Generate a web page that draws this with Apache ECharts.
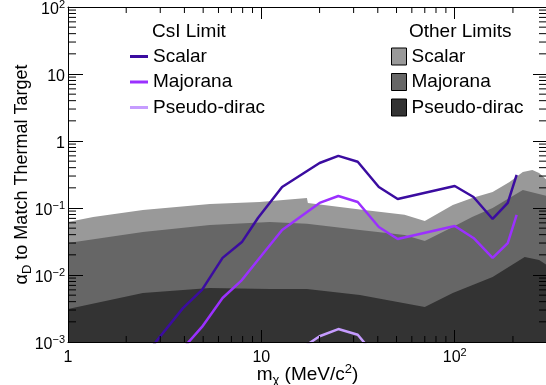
<!DOCTYPE html>
<html><head><meta charset="utf-8">
<script src="https://cdn.jsdelivr.net/npm/echarts@6/dist/echarts.min.js"></script>
<style>html,body{margin:0;padding:0;background:#fff}#c{width:546px;height:385px}</style>
</head><body><div id="c"></div>
<script>
// ---- Data ----
// CsI limit curves
const csiScalarMass = [2.5, 3.93, 4.93, 6.3, 7.93, 9.6, 12.8, 20, 25, 31.5, 40.5, 50.7, 100, 125, 157, 188, 209];
const csiScalar     = [0.00063, 0.0032, 0.006, 0.018, 0.031, 0.071, 0.206, 0.47, 0.60, 0.49, 0.206, 0.136, 0.213, 0.146, 0.0686, 0.119, 0.311];
const csiMajoranaMass = [3.93, 4.93, 6.3, 7.93, 9.6, 12.8, 20, 25, 31.5, 40.5, 50.7, 100, 125, 157, 188, 209];
const csiMajorana     = [0.0008, 0.00168, 0.00454, 0.0084, 0.0167, 0.047, 0.119, 0.151, 0.123, 0.052, 0.0345, 0.054, 0.0357, 0.018, 0.030, 0.079];
const csiPseudoMass = [12.8, 20, 25, 31.5, 40.5];
const csiPseudo     = [0.00051, 0.00122, 0.00156, 0.00128, 0.00054];
// Other limits (bands)
const otherScalarMass = [1, 1.35, 2.44, 5.42, 9.8, 17.2, 17.4, 32.3, 55, 70, 97.7, 123, 157, 192, 225, 252, 273, 300];
const otherScalar     = [0.062, 0.0734, 0.093, 0.115, 0.123, 0.141, 0.119, 0.095, 0.079, 0.064, 0.111, 0.141, 0.173, 0.244, 0.344, 0.369, 0.333, 0.26];
const otherMajoranaMass = [1, 2.44, 5.42, 11.05, 17.2, 32.3, 55, 70, 97.7, 123, 157, 225, 300];
const otherMajorana     = [0.030, 0.0438, 0.0557, 0.0618, 0.058, 0.047, 0.0395, 0.0321, 0.052, 0.0734, 0.100, 0.186, 0.151];
const otherPseudoMass = [1, 2.44, 5.42, 11.05, 17.2, 32.3, 70, 97.7, 157, 230, 273, 300];
const otherPseudo     = [0.00311, 0.00538, 0.0064, 0.0062, 0.0062, 0.00503, 0.00333, 0.00538, 0.0093, 0.0186, 0.0167, 0.014];
// Axis ticks
const xTickValues = [1, 10, 100];
const xTickLabels = ['1', '10', '10{sup|2}'];
const yTickValues = [0.001, 0.01, 0.1, 1, 10, 100];
const yTickLabels = ['10{sup|\u22123}', '10{sup|\u22122}', '10{sup|\u22121}', '1', '10', '10{sup|2}'];
const xMinorTicks = [2,3,4,5,6,7,8,9,20,30,40,50,60,70,80,90,200,300];
const yMinorTicks = [0.002,0.003,0.004,0.005,0.006,0.007,0.008,0.009,
  0.02,0.03,0.04,0.05,0.06,0.07,0.08,0.09,
  0.2,0.3,0.4,0.5,0.6,0.7,0.8,0.9,
  2,3,4,5,6,7,8,9,20,30,40,50,60,70,80,90];

const X_MIN = 1, X_MAX = 300, Y_MIN = 0.001, Y_MAX = 100;
const FONT = '"Liberation Sans", Arial, Helvetica, sans-serif';
const zip = (xs, ys) => xs.map((x, i) => [x, ys[i]]);
const C_SCALAR = '#3b0ca0', C_MAJ = '#9b30ff', C_PSEUDO = '#c69cff';
const G1 = '#999999', G2 = '#666666', G3 = '#333333';

function fmt(values, labels) {
  return v => {
    const i = values.findIndex(t => Math.abs(Math.log10(t) - Math.log10(v)) < 1e-6);
    return i >= 0 ? labels[i] : '';
  };
}

const chart = echarts.init(document.getElementById('c'), null, {renderer: 'canvas'});
const axisBase = {
  type: 'log', logBase: 10,
  axisLine: {show: true, lineStyle: {color: '#000', width: 1}},
  splitLine: {show: false},
  z: 10
};
const labelRich = {sup: {fontSize: 11, lineHeight: 11, verticalAlign: 'top', fontFamily: FONT, color: '#000'}};
const nameRich = {
  sub: {fontSize: 13, lineHeight: 13, verticalAlign: 'bottom', fontFamily: FONT, color: '#000'},
  sup: {fontSize: 13, lineHeight: 13, verticalAlign: 'top', fontFamily: FONT, color: '#000'}
};

const option = {
  animation: false,
  backgroundColor: '#fff',
  textStyle: {fontFamily: FONT},
  grid: {left: 68, top: 7, width: 479, height: 335, containLabel: false, outerBoundsMode: 'none'},
  title: [
    {text: 'CsI Limit', left: 152, top: 22, padding: 0, textStyle: {fontSize: 19, fontWeight: 'normal', color: '#000', fontFamily: FONT}},
    {text: 'Other Limits', left: 409, top: 22, padding: 0, textStyle: {fontSize: 19, fontWeight: 'normal', color: '#000', fontFamily: FONT}}
  ],
  legend: [
    {
      data: ['CsI Scalar', 'CsI Majorana', 'CsI Pseudo-dirac'],
      orient: 'vertical', left: 130, top: 47, padding: 0, itemGap: 6.5,
      icon: 'rect', itemWidth: 18, itemHeight: 3, selectedMode: false,
      formatter: n => n.replace('CsI ', ''),
      textStyle: {fontSize: 19, color: '#000', fontFamily: FONT}
    },
    {
      data: ['Other Scalar', 'Other Majorana', 'Other Pseudo-dirac'],
      orient: 'vertical', left: 391, top: 47, padding: 0, itemGap: 6.5,
      icon: 'rect', itemWidth: 15, itemHeight: 17, selectedMode: false,
      itemStyle: {borderColor: '#000', borderWidth: 1},
      formatter: n => n.replace('Other ', ''),
      textStyle: {fontSize: 19, color: '#000', fontFamily: FONT}
    }
  ],
  xAxis: [
    Object.assign({}, axisBase, {
      position: 'bottom', min: X_MIN, max: X_MAX,
      axisTick: {show: true, inside: true, length: 12, lineStyle: {color: '#000'}},
      axisLabel: {show: true, margin: 5, fontSize: 16, lineHeight: 22, color: '#000', fontFamily: FONT,
        formatter: fmt(xTickValues, xTickLabels), rich: labelRich, showMaxLabel: false},
      name: 'm{sub|\u03c7} (MeV/c{sup|2})', nameLocation: 'middle', nameGap: 21, nameMoveOverlap: false,
      nameTextStyle: {fontSize: 19, lineHeight: 24, color: '#000', fontFamily: FONT, rich: nameRich}
    }),
    Object.assign({}, axisBase, {
      position: 'top', min: X_MIN, max: X_MAX,
      axisTick: {show: true, inside: true, length: 12, lineStyle: {color: '#000'}},
      axisLabel: {show: false}
    })
  ],
  yAxis: [
    Object.assign({}, axisBase, {
      position: 'left', min: Y_MIN, max: Y_MAX,
      axisTick: {show: true, inside: true, length: 15, lineStyle: {color: '#000'}},
      axisLabel: {show: true, margin: 3, fontSize: 16, lineHeight: 22, padding: [6, 0, 0, 0], color: '#000', fontFamily: FONT,
        formatter: fmt(yTickValues, yTickLabels), rich: labelRich},
      name: '\u03b1{sub|D} to Match Thermal Target', nameLocation: 'middle', nameGap: 34, nameMoveOverlap: false,
      nameTextStyle: {fontSize: 18, lineHeight: 24, color: '#000', fontFamily: FONT, rich: nameRich}
    }),
    Object.assign({}, axisBase, {
      position: 'right', min: Y_MIN, max: Y_MAX,
      axisTick: {show: true, inside: true, length: 14, lineStyle: {color: '#000'}},
      axisLabel: {show: false}
    })
  ],
  series: [
    {name: 'Other Scalar', type: 'line', data: zip(otherScalarMass, otherScalar), symbol: 'none', silent: true,
      lineStyle: {width: 0}, itemStyle: {color: G1}, areaStyle: {color: G1, opacity: 1, origin: 'start'}, z: 1},
    {name: 'Other Majorana', type: 'line', data: zip(otherMajoranaMass, otherMajorana), symbol: 'none', silent: true,
      lineStyle: {width: 0}, itemStyle: {color: G2}, areaStyle: {color: G2, opacity: 1, origin: 'start'}, z: 1},
    {name: 'Other Pseudo-dirac', type: 'line', data: zip(otherPseudoMass, otherPseudo), symbol: 'none', silent: true,
      lineStyle: {width: 0}, itemStyle: {color: G3}, areaStyle: {color: G3, opacity: 1, origin: 'start'}, z: 1},
    {name: 'CsI Scalar', type: 'line', data: zip(csiScalarMass, csiScalar), symbol: 'none', clip: true,
      lineStyle: {color: C_SCALAR, width: 2.5}, itemStyle: {color: C_SCALAR}, z: 3},
    {name: 'CsI Majorana', type: 'line', data: zip(csiMajoranaMass, csiMajorana), symbol: 'none', clip: true,
      lineStyle: {color: C_MAJ, width: 2.5}, itemStyle: {color: C_MAJ}, z: 3},
    {name: 'CsI Pseudo-dirac', type: 'line', data: zip(csiPseudoMass, csiPseudo), symbol: 'none', clip: true,
      lineStyle: {color: C_PSEUDO, width: 2.5}, itemStyle: {color: C_PSEUDO}, z: 3},
    {
      type: 'custom', silent: true, z: 20, clip: false,
      data: xMinorTicks.map(v => [v, Y_MIN]),
      renderItem: (params, api) => {
        const b = api.coord([api.value(0), Y_MIN]);
        const t = api.coord([api.value(0), Y_MAX]);
        const st = {stroke: '#000', lineWidth: 1};
        return {type: 'group', children: [
          {type: 'line', shape: {x1: b[0], y1: b[1], x2: b[0], y2: b[1] - 6}, style: st},
          {type: 'line', shape: {x1: t[0], y1: t[1], x2: t[0], y2: t[1] + 6}, style: st}
        ]};
      }
    },
    {
      type: 'custom', silent: true, z: 20, clip: false,
      data: yMinorTicks.map(v => [X_MIN, v]),
      renderItem: (params, api) => {
        const l = api.coord([X_MIN, api.value(1)]);
        const r = api.coord([X_MAX, api.value(1)]);
        const st = {stroke: '#000', lineWidth: 1};
        return {type: 'group', children: [
          {type: 'line', shape: {x1: l[0], y1: l[1], x2: l[0] + 8, y2: l[1]}, style: st},
          {type: 'line', shape: {x1: r[0], y1: r[1], x2: r[0] - 8, y2: r[1]}, style: st}
        ]};
      }
    }
  ]
};
chart.setOption(option);
</script>
</body></html>
